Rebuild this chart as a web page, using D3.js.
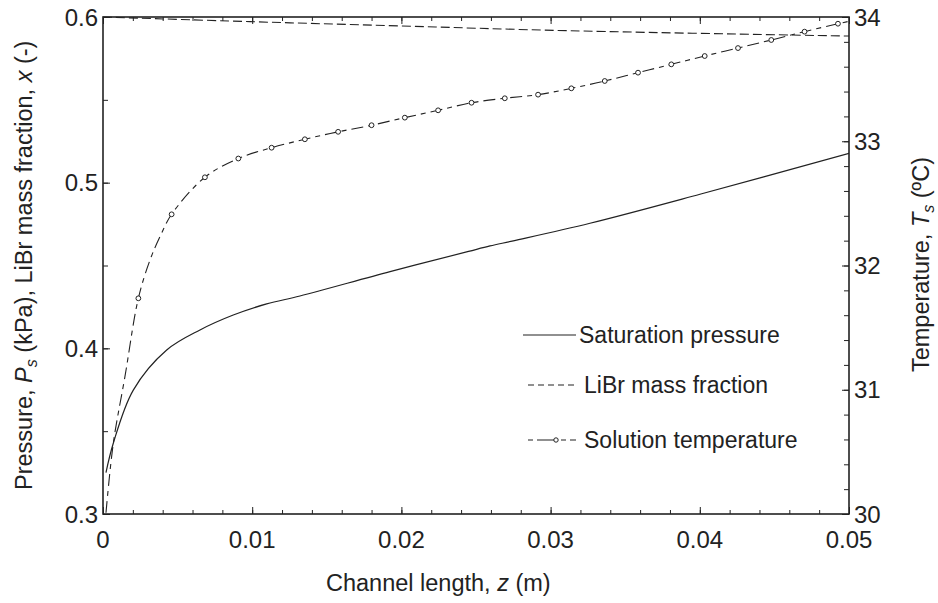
<!DOCTYPE html>
<html>
<head>
<meta charset="utf-8">
<script src="https://cdn.jsdelivr.net/npm/d3@7"></script>
<style>
  html, body { margin: 0; padding: 0; background: #fff; }
  svg { display: block; font-family: "Liberation Sans", Arial, sans-serif; }
</style>
</head>
<body>
<svg id="chart" width="938" height="603"></svg>
<script>
// ---- data ----
const xTicks = [0, 0.01, 0.02, 0.03, 0.04, 0.05];
const xTickLabels = ["0", "0.01", "0.02", "0.03", "0.04", "0.05"];
const leftTicks = [0.3, 0.4, 0.5, 0.6];
const leftTickLabels = ["0.3", "0.4", "0.5", "0.6"];
const rightTicks = [30, 31, 32, 33, 34];
const rightTickLabels = ["30", "31", "32", "33", "34"];

// Saturation pressure (kPa), left axis
const satZ = [0.0002, 0.00069, 0.00203, 0.00427, 0.0065, 0.00873, 0.01097, 0.0132, 0.01924, 0.0245, 0.02594, 0.0275, 0.03264, 0.04001, 0.05];
const satP = [0.325, 0.3427, 0.3748, 0.399, 0.4111, 0.4201, 0.4268, 0.4316, 0.4463, 0.4585, 0.4618, 0.4649, 0.4755, 0.4930, 0.5177];

// LiBr mass fraction (-), left axis
const libZ = [0, 0.00985, 0.0199, 0.0313, 0.05];
const libX = [0.6, 0.5972, 0.5946, 0.5917, 0.5885];

// Solution temperature (ºC), right axis
const tempZ = [0.0002, 0.00069, 0.00147, 0.00237, 0.00315, 0.00382, 0.0046, 0.00683,
  0.00907, 0.0113, 0.01353, 0.01576, 0.018, 0.02023, 0.02246, 0.0247, 0.02693, 0.02916, 0.03139, 0.03363,
  0.03586, 0.03809, 0.04033, 0.04256, 0.04479, 0.04702, 0.04926, 0.05];
const tempT = [30.01, 30.569, 31.105, 31.736, 32.044, 32.232, 32.412, 32.710,
  32.861, 32.948, 33.016, 33.076, 33.129, 33.190, 33.249, 33.310, 33.346, 33.375, 33.426, 33.485,
  33.552, 33.619, 33.686, 33.750, 33.815, 33.882, 33.946, 33.965];
const markerZ = [0.00237, 0.0046, 0.00683, 0.00907, 0.0113, 0.01353, 0.01576, 0.018, 0.02023, 0.02246, 0.0247,
  0.02693, 0.02916, 0.03139, 0.03363, 0.03586, 0.03809, 0.04033, 0.04256, 0.04479, 0.04702, 0.04926];
const markerT = [31.736, 32.412, 32.710, 32.861, 32.948, 33.016, 33.076, 33.129, 33.190, 33.249, 33.310,
  33.346, 33.375, 33.426, 33.485, 33.552, 33.619, 33.686, 33.750, 33.815, 33.882, 33.946];

const legendLabels = ["Saturation pressure", "LiBr mass fraction", "Solution temperature"];

// ---- layout ----
const svg = d3.select("#chart");
const L = 103, R = 849, T = 17, B = 514;
const x = d3.scaleLinear().domain([0, 0.05]).range([L, R]);
const yL = d3.scaleLinear().domain([0.3, 0.6]).range([B, T]);
const yR = d3.scaleLinear().domain([30, 34]).range([B, T]);
const ink = "#222";
const fs = 24;
const fsTitle = 23.5;

svg.append("defs").append("clipPath").attr("id", "clip")
  .append("rect").attr("x", L).attr("y", T - 2).attr("width", R - L).attr("height", B - T + 4);

// axes (ticks inward)
function minorVals(d0, d1, step) {
  const n = Math.round((d1 - d0) / step);
  return d3.range(n + 1).map(i => +(d0 + i * step).toFixed(6));
}
const xMinor = minorVals(0, 0.05, 0.002);
const lMinor = minorVals(0.3, 0.6, 0.05);
const rMinor = minorVals(30, 34, 0.2);

function styleAxis(g) {
  g.selectAll("path.domain").remove();
  g.selectAll("line").attr("stroke", ink).attr("stroke-width", 1);
  g.selectAll("text").remove();
}
svg.append("g").attr("transform", `translate(0,${B})`)
  .call(d3.axisBottom(x).tickValues(xMinor).tickSize(-4)).call(styleAxis);
svg.append("g").attr("transform", `translate(0,${B})`)
  .call(d3.axisBottom(x).tickValues(xTicks).tickSize(-7)).call(styleAxis);
svg.append("g").attr("transform", `translate(0,${T})`)
  .call(d3.axisTop(x).tickValues(xMinor).tickSize(-4)).call(styleAxis);
svg.append("g").attr("transform", `translate(0,${T})`)
  .call(d3.axisTop(x).tickValues(xTicks).tickSize(-7)).call(styleAxis);
svg.append("g").attr("transform", `translate(${L},0)`)
  .call(d3.axisLeft(yL).tickValues(lMinor).tickSize(-5)).call(styleAxis);
svg.append("g").attr("transform", `translate(${L},0)`)
  .call(d3.axisLeft(yL).tickValues(leftTicks).tickSize(-7)).call(styleAxis);
svg.append("g").attr("transform", `translate(${R},0)`)
  .call(d3.axisRight(yR).tickValues(rMinor).tickSize(-5)).call(styleAxis);
svg.append("g").attr("transform", `translate(${R},0)`)
  .call(d3.axisRight(yR).tickValues(rightTicks).tickSize(-7)).call(styleAxis);

// tick labels
svg.append("g").selectAll("text").data(xTicks).join("text")
  .attr("x", d => x(d)).attr("y", 548).attr("text-anchor", "middle")
  .attr("font-size", fs).attr("fill", ink).text((d, i) => xTickLabels[i]);
svg.append("g").selectAll("text").data(leftTicks).join("text")
  .attr("x", 98).attr("y", d => yL(d) + 8.5).attr("text-anchor", "end")
  .attr("font-size", fs).attr("fill", ink).text((d, i) => leftTickLabels[i]);
svg.append("g").selectAll("text").data(rightTicks).join("text")
  .attr("x", 854).attr("y", d => yR(d) + 8.5).attr("text-anchor", "start")
  .attr("font-size", fs).attr("fill", ink).text((d, i) => rightTickLabels[i]);

// frame
svg.append("rect").attr("x", L).attr("y", T).attr("width", R - L).attr("height", B - T)
  .attr("fill", "none").attr("stroke", ink).attr("stroke-width", 1.6);

// axis titles
const xt = svg.append("text").attr("x", 326).attr("y", 591).attr("text-anchor", "start")
  .attr("font-size", fsTitle).attr("fill", ink);
xt.append("tspan").text("Channel length,  ");
xt.append("tspan").attr("font-style", "italic").text("z");
xt.append("tspan").text(" (m)");

const lt = svg.append("text").attr("transform", "translate(32,490) rotate(-90)")
  .attr("text-anchor", "start").attr("font-size", fsTitle).attr("fill", ink);
lt.append("tspan").text("Pressure,  ");
lt.append("tspan").attr("font-style", "italic").text("P");
lt.append("tspan").attr("font-style", "italic").attr("font-size", 16).attr("dy", 5).text("s");
lt.append("tspan").attr("dy", -5).text(" (kPa), LiBr mass fraction,  ");
lt.append("tspan").attr("font-style", "italic").text("x");
lt.append("tspan").text(" (-)");

const rt = svg.append("text").attr("transform", "translate(929,157) rotate(-90)")
  .attr("text-anchor", "end").attr("font-size", fsTitle).attr("fill", ink);
rt.append("tspan").text("Temperature,  ");
rt.append("tspan").attr("font-style", "italic").text("T");
rt.append("tspan").attr("font-style", "italic").attr("font-size", 16).attr("dy", 5).text("s");
rt.append("tspan").attr("dy", -5).text(" (ºC)");

// lines
const plot = svg.append("g").attr("clip-path", "url(#clip)");
const curve = d3.curveCatmullRom.alpha(0.5);
const satLine = d3.line().x((d, i) => x(satZ[i])).y((d, i) => yL(satP[i])).curve(curve);
const libLine = d3.line().x((d, i) => x(libZ[i])).y((d, i) => yL(libX[i])).curve(curve);
const tempLine = d3.line().x((d, i) => x(tempZ[i])).y((d, i) => yR(tempT[i])).curve(curve);

plot.append("path").attr("d", satLine(satZ)).attr("fill", "none")
  .attr("stroke", ink).attr("stroke-width", 1.2);
plot.append("path").attr("d", libLine(libZ)).attr("fill", "none")
  .attr("stroke", ink).attr("stroke-width", 1.1).attr("stroke-dasharray", "9,4");
plot.append("path").attr("d", tempLine(tempZ)).attr("fill", "none")
  .attr("stroke", ink).attr("stroke-width", 1.1).attr("stroke-dasharray", "12,5,5,5");
plot.append("g").selectAll("circle").data(markerZ).join("circle")
  .attr("cx", d => x(d)).attr("cy", (d, i) => yR(markerT[i])).attr("r", 2.4)
  .attr("fill", "#fff").attr("stroke", ink).attr("stroke-width", 1);

// legend
const lg = svg.append("g");
const legY = [335, 385, 440];
lg.append("line").attr("x1", 523).attr("x2", 576).attr("y1", legY[0]).attr("y2", legY[0])
  .attr("stroke", ink).attr("stroke-width", 1.2);
lg.append("line").attr("x1", 528).attr("x2", 578).attr("y1", legY[1]).attr("y2", legY[1])
  .attr("stroke", ink).attr("stroke-width", 1.1).attr("stroke-dasharray", "6,4");
lg.append("line").attr("x1", 528).attr("x2", 580).attr("y1", legY[2]).attr("y2", legY[2])
  .attr("stroke", ink).attr("stroke-width", 1.1).attr("stroke-dasharray", "5,4,20,4,5,4,6");
lg.append("circle").attr("cx", 556).attr("cy", legY[2]).attr("r", 2.2)
  .attr("fill", "#fff").attr("stroke", ink).attr("stroke-width", 1);
const legX = [579, 584, 584];
lg.selectAll("text").data(legendLabels).join("text")
  .attr("x", (d, i) => legX[i]).attr("y", (d, i) => legY[i] + 8)
  .attr("font-size", 23).attr("fill", ink).text(d => d);
</script>
</body>
</html>
